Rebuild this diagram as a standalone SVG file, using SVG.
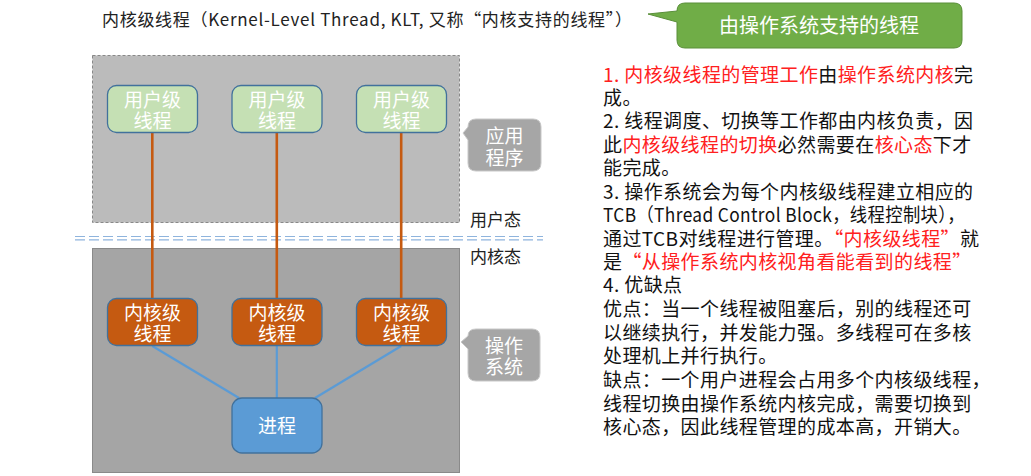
<svg xmlns="http://www.w3.org/2000/svg" width="1031" height="476" viewBox="0 0 1031 476">
<style>
text{font-family:"Noto Sans CJK SC","Liberation Sans",sans-serif}
.title{font-size:17px;fill:#222}
.node{font-size:19px;fill:#fff;text-anchor:middle}
.ut{stroke:#41719c;stroke-width:1.3;fill:#c5e0b4}
.kt{stroke:#41719c;stroke-width:1.3;fill:#c55a11}
.pr{stroke:#41719c;stroke-width:1.3;fill:#5b9bd5}
.call{fill:#a6a6a6;stroke:#c8c8c8;stroke-width:1}
.lbl{font-size:17px;fill:#222}
.body{font-size:19px;fill:#111;letter-spacing:0.4px}
.r{fill:#ff2020}
.ol{stroke:#c55a11;stroke-width:2.6}
.bl{stroke:#5b9bd5;stroke-width:2.2}
</style>
<text class="title" x="102" y="26" textLength="530" lengthAdjust="spacing">内核级线程（Kernel-Level Thread, KLT, 又称“内核支持的线程”）</text>
<g id="callout-green">
<path d="M685,3 H954 Q962,3 962,11 V40 Q962,48 954,48 H685 Q677,48 677,40 V22 L648,14 L677,11 Q677,3 685,3 Z" fill="#70ad47" stroke="#5a8f3a" stroke-width="1"/>
<text x="819" y="33" font-size="20" fill="#fff" text-anchor="middle">由操作系统支持的线程</text>
</g>
<g id="user-space">
<rect x="92.5" y="55.5" width="367" height="167" fill="#bbbbbb" stroke="#888" stroke-width="1" stroke-dasharray="3,2"/>
</g>
<g id="kernel-space">
<rect x="92.5" y="248.5" width="367" height="224" fill="#a5a5a5" stroke="#8a8a8a" stroke-width="1"/>
</g>
<g id="divider">
<line x1="75" y1="236.5" x2="543" y2="236.5" stroke="#8fb4dd" stroke-width="1.2" stroke-dasharray="10,4"/>
<line x1="75" y1="239.8" x2="543" y2="239.8" stroke="#8fb4dd" stroke-width="1.2" stroke-dasharray="10,4"/>
</g>
<text class="lbl" x="470" y="226">用户态</text>
<text class="lbl" x="470" y="263">内核态</text>
<g id="connectors">
<line class="ol" x1="152.3" y1="132" x2="152.3" y2="298"/>
<line class="ol" x1="276.8" y1="132" x2="276.8" y2="298"/>
<line class="ol" x1="401.2" y1="132" x2="401.2" y2="298"/>
<line class="bl" x1="152.3" y1="346" x2="239" y2="398"/>
<line class="bl" x1="276.8" y1="346" x2="276.8" y2="398"/>
<line class="bl" x1="401.2" y1="346" x2="315" y2="398"/>
</g>
<g id="ult1"><rect class="ut" x="107.5" y="85.5" width="90" height="47" rx="9"/><text class="node" x="152.5" y="107">用户级</text><text class="node" x="152.5" y="128">线程</text></g>
<g id="ult2"><rect class="ut" x="232" y="85.5" width="90" height="47" rx="9"/><text class="node" x="277" y="107">用户级</text><text class="node" x="277" y="128">线程</text></g>
<g id="ult3"><rect class="ut" x="356.5" y="85.5" width="90" height="47" rx="9"/><text class="node" x="401.5" y="107">用户级</text><text class="node" x="401.5" y="128">线程</text></g>
<g id="klt1"><rect class="kt" x="107.5" y="298.5" width="90" height="47" rx="9"/><text class="node" x="152.5" y="320">内核级</text><text class="node" x="152.5" y="341">线程</text></g>
<g id="klt2"><rect class="kt" x="232" y="298.5" width="90" height="47" rx="9"/><text class="node" x="277" y="320">内核级</text><text class="node" x="277" y="341">线程</text></g>
<g id="klt3"><rect class="kt" x="356.5" y="298.5" width="90" height="47" rx="9"/><text class="node" x="401.5" y="320">内核级</text><text class="node" x="401.5" y="341">线程</text></g>
<g id="process"><rect class="pr" x="232" y="398" width="90" height="55" rx="10"/><text class="node" x="277" y="433">进程</text></g>
<g id="callout-app">
<path class="call" d="M476,119 H533 Q541,119 541,127 V163 Q541,171 533,171 H476 Q468,171 468,163 V140 L463,133 L468,127 Q468,119 476,119 Z"/>
<text class="node" x="504.5" y="143">应用</text><text class="node" x="504.5" y="165">程序</text>
</g>
<g id="callout-os">
<path class="call" d="M476,329 H532 Q540,329 540,337 V373 Q540,381 532,381 H476 Q468,381 468,373 V349 L461,342 L468,336 Q468,329 476,329 Z"/>
<text class="node" x="504" y="353">操作</text><text class="node" x="504" y="374">系统</text>
</g>
<g id="notes">
<text class="body" x="603" y="82"><tspan class="r">1. 内核级线程的管理工作</tspan>由<tspan class="r">操作系统内核</tspan>完</text>
<text class="body" x="603" y="105">成。</text>
<text class="body" x="603" y="128">2. 线程调度、切换等工作都由内核负责，因</text>
<text class="body" x="603" y="152">此<tspan class="r">内核级线程的切换</tspan>必然需要在<tspan class="r">核心态</tspan>下才</text>
<text class="body" x="603" y="175">能完成。</text>
<text class="body" x="603" y="199">3. 操作系统会为每个内核级线程建立相应的</text>
<text class="body" x="603" y="222" letter-spacing="0" textLength="362" lengthAdjust="spacingAndGlyphs">TCB（Thread Control Block，线程控制块），</text>
<text class="body" x="603" y="246">通过TCB对线程进行管理。<tspan class="r">“内核级线程”</tspan>就</text>
<text class="body" x="603" y="269">是<tspan class="r">“从操作系统内核视角看能看到的线程”</tspan></text>
<text class="body" x="603" y="292">4. 优缺点</text>
<text class="body" x="603" y="316">优点：当一个线程被阻塞后，别的线程还可</text>
<text class="body" x="603" y="340">以继续执行，并发能力强。多线程可在多核</text>
<text class="body" x="603" y="363">处理机上并行执行。</text>
<text class="body" x="603" y="387">缺点：一个用户进程会占用多个内核级线程，</text>
<text class="body" x="603" y="411">线程切换由操作系统内核完成，需要切换到</text>
<text class="body" x="603" y="434">核心态，因此线程管理的成本高，开销大。</text>
</g>
</svg>
